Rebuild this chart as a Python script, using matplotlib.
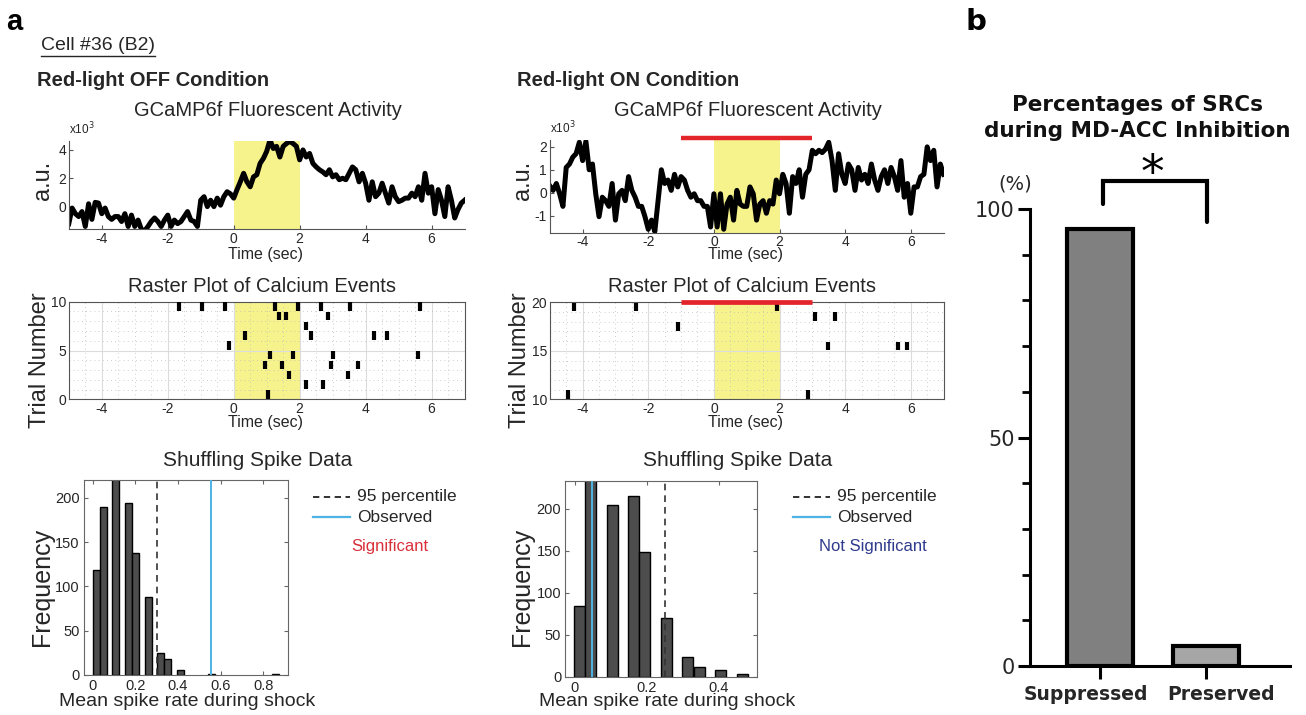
import numpy as np
import matplotlib
matplotlib.use("Agg")
import matplotlib.pyplot as plt
from matplotlib.lines import Line2D
from matplotlib.ticker import MultipleLocator

plt.rcParams['font.family'] = ['Liberation Sans', 'DejaVu Sans']
plt.rcParams['axes.unicode_minus'] = False

W, H = 1306, 715

# ---------------- data ----------------
# fluorescence traces (x10^3 a.u.), sampled every 0.1 s from -5 to 7 s
trace_time = np.round(np.arange(-5.0, 7.05, 0.1), 2)
trace_off = [
    -1.2, -0.1, -0.5, -0.7, -0.35, -1.4, 0.2, -0.9, 0.3, 0.25,
    -0.5, -0.1, -0.7, -0.9, -0.7, -0.7, -1.05, -0.5, -1.4, -0.6,
    -1.4, -0.95, -1.6, -1.7, -1.4, -1.05, -0.8, -1.05, -1.4, -0.95,
    -0.6, -1.4, -0.95, -1.2, -1.05, -0.7, -0.35, -0.95, -1.05, -1.4,
    0.45, 0.7, 0.0, 0.45, 0.0, 0.6, 0.1, 0.7, 1.05, 0.9,
    0.6, 1.2, 1.75, 2.35, 1.75, 1.4, 2.1, 2.25, 3.05, 3.4,
    3.9, 4.7, 4.1, 4.25, 3.5, 4.25, 4.45, 4.6, 4.45, 4.25,
    3.3, 4.0, 3.5, 3.75, 3.05, 2.8, 2.6, 2.45, 2.25, 2.6,
    2.1, 2.25, 1.9, 2.0, 1.9, 2.35, 2.8, 2.6, 1.75, 2.35,
    1.65, 0.45, 1.75, 0.7, 0.95, 1.65, 0.95, 0.25, 1.4, 0.7,
    0.35, 0.45, 0.6, 0.6, 0.95, 0.7, 1.4, 0.45, 2.35, 0.95,
    1.4, -0.5, 1.2, 0.45, -0.7, 1.4, 0.45, -0.8, -0.2, 0.25,
    0.45]
trace_on = [
    0.3, 0.1, 0.4, -0.05, -0.6, 1.1, 1.25, 1.55, 1.7, 2.2,
    1.4, 2.25, 1.0, 1.25, -0.05, -1.05, -0.2, -0.35, -0.6, 0.4,
    -1.2, -0.05, 0.1, -0.35, 0.7, 0.1, -0.2, -0.6, -0.6, -1.05,
    -1.6, -1.2, -1.7, -0.35, 1.0, 0.4, 0.55, 0.1, 0.8, 0.25,
    0.7, 0.55, 0.1, -0.2, -0.05, -0.35, -0.35, -0.6, -0.6, -1.5,
    -0.05, -1.5, -0.05, -1.6, -0.5, -0.2, -1.2, 0.1, -0.5, -0.6,
    -0.6, 0.25, -0.05, -1.2, -0.5, -0.35, -0.9, -0.35, -0.5, 0.55,
    -0.05, 0.8, 0.4, -0.9, 0.7, 0.4, 1.0, -0.2, 0.8, 1.0,
    1.85, 1.7, 1.85, 1.75, 1.9, 2.2, 1.4, 0.1, 1.7, 0.8,
    0.4, 1.25, 1.0, 0.1, 1.1, 0.55, 0.8, 0.4, 1.25, 0.55,
    0.1, 0.7, 1.0, 0.4, 1.1, 0.7, 0.1, 1.4, -0.2, 0.4,
    -0.9, 0.25, 0.25, 0.7, 0.8, 2.0, 1.4, 1.85, 0.25, 1.25,
    0.8]

# calcium events (trial number, time in s)
off_event_trial = [10, 10, 10, 10, 10, 10, 10, 10, 9, 9, 9, 8, 7, 7, 7, 7, 6,
                   5, 5, 5, 5, 4, 4, 4, 4, 3, 3, 2, 2, 1]
off_event_time = [-1.65, -0.96, -0.27, 1.24, 1.94, 2.66, 3.54, 5.65, 1.37, 1.57, 2.86,
                  2.2, 0.33, 2.34, 4.25, 4.64, -0.13, 1.1, 1.81, 3.0, 5.6,
                  0.95, 1.45, 2.95, 3.76, 1.68, 3.48, 2.2, 2.7, 1.03]
on_event_trial = [20, 20, 20, 19, 19, 18, 16, 16, 16, 11, 11]
on_event_time = [-4.27, -2.38, 1.92, 3.08, 3.68, -1.08, 3.49, 5.6, 5.89, -4.45, 2.86]

# shuffled spike-rate histograms
off_bin_centers = [0.017, 0.052, 0.108, 0.169, 0.200, 0.260, 0.319, 0.350, 0.410, 0.558, 0.856]
off_bin_counts = [118, 190, 228, 194, 138, 88, 25, 18, 6, 1, 1]
off_p95, off_observed = 0.303, 0.553
on_bin_centers = [0.012, 0.043, 0.104, 0.164, 0.194, 0.255, 0.314, 0.345, 0.405, 0.465]
on_bin_counts = [84, 240, 204, 215, 148, 70, 24, 11, 8, 3]
on_p95, on_observed = 0.249, 0.049

# panel b
groups = ['Suppressed', 'Preserved']
percent = [95.7, 4.3]

# ---------------- figure ----------------
fig = plt.figure(figsize=(W / 100, H / 100), dpi=100)


def box(l, t, r, b):
    return [l / W, 1 - b / H, (r - l) / W, (b - t) / H]


def ftext(x, y, s, **kw):
    return fig.text(x / W, 1 - y / H, s, **kw)


TXT = '#262626'
YELLOW = '#f6f38c'
RED = '#e3242b'
CYAN = '#4db3e6'


def trace_axes(rect, y, ylim, yticks, red=False):
    ax = fig.add_axes(rect)
    ax.axvspan(0, 2, color=YELLOW, zorder=0, lw=0)
    ax.plot(trace_time, y, color='black', lw=3.6, solid_joinstyle='round', zorder=2)
    ax.set_xlim(-5, 7)
    ax.set_ylim(*ylim)
    ax.set_xticks([-4, -2, 0, 2, 4, 6])
    ax.set_yticks(yticks)
    for s in ['top', 'right']:
        ax.spines[s].set_visible(False)
    for s in ['left', 'bottom']:
        ax.spines[s].set_color('#555555')
    ax.tick_params(direction='in', length=3, labelsize=10, colors='#555555',
                   labelcolor=TXT, pad=2)
    if red:
        ax.plot([-1, 3], [ylim[1] + 0.08, ylim[1] + 0.08], color=RED, lw=3.2,
                clip_on=False, solid_capstyle='butt', zorder=3)
    ax.text(0.0, 1.04, 'x10$^3$', transform=ax.transAxes, fontsize=8.5,
            color=TXT, ha='left', va='bottom')
    return ax


def raster_axes(rect, trials, times, ylim, yticks, red=False):
    ax = fig.add_axes(rect)
    ax.axvspan(0, 2, color=YELLOW, zorder=0, lw=0)
    tr = np.array(trials)
    ax.vlines(times, tr - 0.92, tr - 0.05, color='black', lw=3.0, zorder=3)
    ax.set_xlim(-5, 7)
    ax.set_ylim(*ylim)
    ax.set_xticks([-4, -2, 0, 2, 4, 6])
    ax.set_yticks(yticks)
    ax.xaxis.set_minor_locator(MultipleLocator(0.5))
    ax.yaxis.set_minor_locator(MultipleLocator(1))
    ax.grid(True, which='major', color='#dcdcdc', lw=0.8, zorder=1)
    ax.grid(True, which='minor', color='#bdbdbd', lw=0.6, ls=(0, (1, 4)), zorder=1)
    ax.set_axisbelow(True)
    for s in ax.spines.values():
        s.set_color('#555555')
    ax.tick_params(which='both', direction='in', length=0, labelsize=10,
                   labelcolor=TXT, pad=2)
    if red:
        ax.plot([-1, 3], [ylim[1], ylim[1]], color=RED, lw=3.4,
                clip_on=False, solid_capstyle='butt', zorder=4)
    return ax


def hist_axes(rect, centers, counts, width, p95, obs, xlim, ylim, xticks):
    ax = fig.add_axes(rect)
    ax.bar(centers, counts, width=width, color='#4d4d4d', edgecolor='black', lw=1.0, zorder=2)
    ax.axvline(p95, color='#333333', lw=1.2, ls=(0, (4, 3)), zorder=3)
    ax.axvline(obs, color=CYAN, lw=1.4, zorder=3)
    ax.set_xlim(*xlim)
    ax.set_ylim(*ylim)
    ax.set_xticks(xticks)
    ax.set_xticklabels([('%g' % v) for v in xticks])
    ax.set_yticks([0, 50, 100, 150, 200])
    for s in ax.spines.values():
        s.set_color('#666666')
    ax.tick_params(direction='in', length=3, top=True, right=True, labelsize=10.5,
                   colors='#666666', labelcolor=TXT, pad=3)
    return ax


# ---- panel a
trace_axes(box(68.8, 140.7, 464.6, 229.3), trace_off, (-1.6, 4.65), [0, 2, 4])
trace_axes(box(549.8, 140.0, 943.6, 232.7), trace_on, (-1.75, 2.3), [-1, 0, 1, 2], red=True)
raster_axes(box(68.8, 301.7, 464.6, 399.3), off_event_trial, off_event_time, (0, 10), [0, 5, 10])
raster_axes(box(549.8, 302.3, 943.6, 399.3), on_event_trial, on_event_time, (10, 20), [10, 15, 20], red=True)
hist_axes(box(84, 480, 288.3, 675), off_bin_centers, off_bin_counts, 0.033,
          off_p95, off_observed, (-0.041, 0.917), (0, 220), [0, 0.2, 0.4, 0.6, 0.8])
hist_axes(box(565.3, 481, 756.7, 676.7), on_bin_centers, on_bin_counts, 0.0305,
          on_p95, on_observed, (-0.026, 0.5045), (0, 233), [0, 0.2, 0.4])

ftext(6, 22, 'a', fontsize=21, fontweight='bold', color='black', va='center')
cell = ftext(41, 46, 'Cell #36 (B2)', fontsize=14, color=TXT, va='center')
ftext(37, 81, 'Red-light OFF Condition', fontsize=14.5, fontweight='bold', color=TXT, va='center')
ftext(517, 81, 'Red-light ON Condition', fontsize=14.5, fontweight='bold', color=TXT, va='center')

for cx in [0, 480]:
    ftext(268 + cx, 110, 'GCaMP6f Fluorescent Activity', fontsize=14.5, color=TXT, ha='center', va='center')
    ftext(262 + cx, 286, 'Raster Plot of Calcium Events', fontsize=14.5, color=TXT, ha='center', va='center')
    ftext(266 + cx, 255, 'Time (sec)', fontsize=11.5, color=TXT, ha='center', va='center')
    ftext(266 + cx, 422, 'Time (sec)', fontsize=11.5, color=TXT, ha='center', va='center')
    ftext(43 + cx, 180, 'a.u.', fontsize=17, color=TXT, ha='center', va='center', rotation=90)
    ftext(40 + cx, 360, 'Trial Number', fontsize=17, color=TXT, ha='center', va='center', rotation=90)
    ftext(42 + cx, 587, 'Frequency', fontsize=18, color=TXT, ha='center', va='center', rotation=90)
    ftext(187 + cx, 702, 'Mean spike rate during shock', fontsize=14, color=TXT, ha='center', va='center')
    ftext(258 + cx, 461, 'Shuffling Spike Data', fontsize=15, color=TXT, ha='center', va='center')
    # legend
    fig.add_artist(Line2D([(313 + cx) / W, (350 + cx) / W], [1 - 497 / H] * 2,
                          color='#222222', lw=1.3, ls=(0, (3.5, 2.5))))
    fig.add_artist(Line2D([(313 + cx) / W, (350 + cx) / W], [1 - 517 / H] * 2,
                          color=CYAN, lw=1.6))
    ftext(357 + cx, 497, '95 percentile', fontsize=12.5, color=TXT, va='center')
    ftext(357 + cx, 517, 'Observed', fontsize=12.5, color=TXT, va='center')

ftext(390, 547, 'Significant', fontsize=12, color='#d9303a', ha='center', va='center')
ftext(873, 547, 'Not Significant', fontsize=12, color='#2e3a8c', ha='center', va='center')

# ---- panel b
BF = ['DejaVu Sans']
axb = fig.add_axes(box(1030, 209, 1290, 666))
axb.bar([0, 1], percent, width=0.62, color=['#808080', '#a6a6a6'],
        edgecolor='black', lw=3.0, zorder=2)
axb.set_xlim(-0.66, 1.79)
axb.set_ylim(0, 100)
axb.set_yticks([0, 50, 100])
axb.yaxis.set_minor_locator(MultipleLocator(10))
axb.set_xticks([0, 1])
axb.set_xticklabels(['', ''])
for lab in axb.get_yticklabels():
    lab.set_family(BF)
for s in ['top', 'right']:
    axb.spines[s].set_visible(False)
for s in ['left', 'bottom']:
    axb.spines[s].set_linewidth(2.2)
    axb.spines[s].set_color('black')
axb.tick_params(axis='y', which='major', length=9, width=2.2, labelsize=15, pad=2, labelcolor=TXT)
axb.tick_params(axis='y', which='minor', length=6, width=2.0)
axb.tick_params(axis='x', length=9, width=2.2)
axb.plot([0.03, 0.03, 1.01, 1.01], [101.1, 106.2, 106.2, 97.2], color='black',
         lw=3.0, clip_on=False, solid_joinstyle='miter', solid_capstyle='round')
axb.text(0.49, 107.5, '*', fontsize=34, ha='center', va='center', family=BF,
         color='black', clip_on=False)

ftext(1086, 695, groups[0], fontsize=13.5, fontweight='bold', color=TXT,
      ha='center', va='center', family=BF)
ftext(1221, 695, groups[1], fontsize=13.5, fontweight='bold', color=TXT,
      ha='center', va='center', family=BF)

ftext(965, 22, 'b', fontsize=21, fontweight='bold', color='black', va='center', family=BF)
ftext(1137, 105, 'Percentages of SRCs', fontsize=15.5, fontweight='bold', color='#111111',
      ha='center', va='center', family=BF)
ftext(1137, 131, 'during MD-ACC Inhibition', fontsize=15.5, fontweight='bold', color='#111111',
      ha='center', va='center', family=BF)
ftext(1015, 184, '(%)', fontsize=14, color=TXT, ha='center', va='center', family=BF)

# underline for cell label
fig.canvas.draw()
bb = cell.get_window_extent()
fig.add_artist(Line2D([bb.x0 / W, bb.x1 / W], [(bb.y0 - 1) / H] * 2, color=TXT, lw=1.0))

fig.savefig('out.png', dpi=100)
